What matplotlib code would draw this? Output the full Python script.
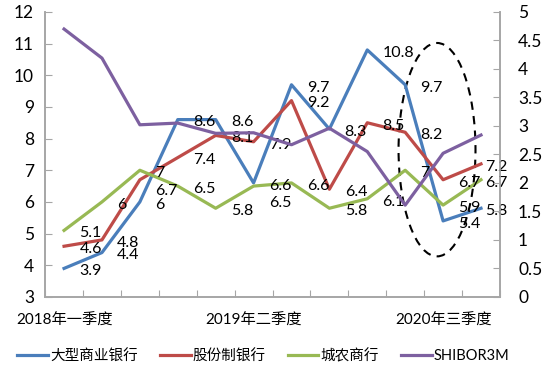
import matplotlib.pyplot as plt
from matplotlib.patches import Ellipse
import numpy as np

plt.rcParams['font.family'] = ['Lato', 'Noto Sans CJK SC', 'DejaVu Sans']

quarters = ['2018年一季度', '2018年二季度', '2018年三季度', '2018年四季度',
            '2019年一季度', '2019年二季度', '2019年三季度', '2019年四季度',
            '2020年一季度', '2020年二季度', '2020年三季度', '2020年四季度']
big_banks = [3.9, 4.4, 6, 8.6, 8.6, 6.6, 9.7, 8.3, 10.8, 9.7, 5.4, 5.8]
joint_stock = [4.6, 4.8, 6.7, 7.4, 8.1, 7.9, 9.2, 6.4, 8.5, 8.2, 6.7, 7.2]
rural_city = [5.1, 6, 7, 6.5, 5.8, 6.5, 6.6, 5.8, 6.1, 7, 5.9, 6.7]
shibor3m = [4.70, 4.19, 3.02, 3.05, 2.87, 2.88, 2.67, 2.96, 2.55, 1.61, 2.52, 2.84]
shown_ticks = [0, 5, 10]

blue = '#4a7ebb'; red = '#be4b48'; green = '#98b954'; purple = '#7d60a0';
axis_grey = '#a6a6a6'

fig = plt.figure(figsize=(5.5, 3.73), dpi=100)
ax = fig.add_axes([0.082, 0.204, 0.827, 0.764])
ax2 = ax.twinx()

x = np.arange(len(quarters)) + 0.5
l1, = ax.plot(x, big_banks, color=blue, lw=2.3, label='大型商业银行')
l2, = ax.plot(x, joint_stock, color=red, lw=2.3, label='股份制银行')
l3, = ax.plot(x, rural_city, color=green, lw=2.3, label='城农商行')
l4, = ax2.plot(x, shibor3m, color=purple, lw=2.3, label='SHIBOR3M')

# data labels sit to the right of each point, a bit below
nudge = {('g', 5): -10, ('r', 2): -6}
last = len(quarters) - 1
for key, series in [('b', big_banks), ('r', joint_stock), ('g', rural_city)]:
     for i, v in enumerate(series):
          dy = -2 + nudge.get((key, i), 0)
          dx = 3 if i == last else 11
          ax.annotate(('%g' % v), (x[i], v), xytext=(dx, dy), textcoords='offset points',
                      ha='left', va='center', fontsize=11.5, color='black')

ax.set_xlim(0, 12)
ax.set_ylim(3, 12)
ax.set_yticks(range(3, 13))
ax2.set_ylim(0, 5)
ax2.set_yticks(np.arange(0, 5.01, 0.5))
ax2.set_yticklabels(['%g' % t for t in np.arange(0, 5.01, 0.5)])

ax.set_xticks(range(13))
ax.set_xticklabels([])
ax.set_xticks([x[i] for i in shown_ticks], minor=True)
ax.set_xticklabels([quarters[i] for i in shown_ticks], minor=True, fontsize=11)
ax.tick_params(axis='x', which='minor', length=0, pad=12)

for a in [ax, ax2]:
     a.spines['top'].set_visible(False)
     for s in ['left', 'right', 'bottom']:
          a.spines[s].set_color(axis_grey)
          a.spines[s].set_linewidth(1.2)
     a.tick_params(which='major', direction='in', length=5, color=axis_grey, labelsize=12.5)
ax2.tick_params(axis='y', pad=13)
ax.tick_params(axis='y', pad=8)

ell = Ellipse((10.34, 7.65), 2.03, 6.74, fill=False, ls=(0, (4, 3)), lw=1.5, ec='black')
ax.add_patch(ell)

fig.legend(handles=[l1, l2, l3, l4], loc='center', bbox_to_anchor=(0.479, 0.045), ncol=4,
           frameon=False, fontsize=10.5, handlelength=2.1, handletextpad=0.15, columnspacing=1.5)

fig.savefig('out.png', dpi=100)
